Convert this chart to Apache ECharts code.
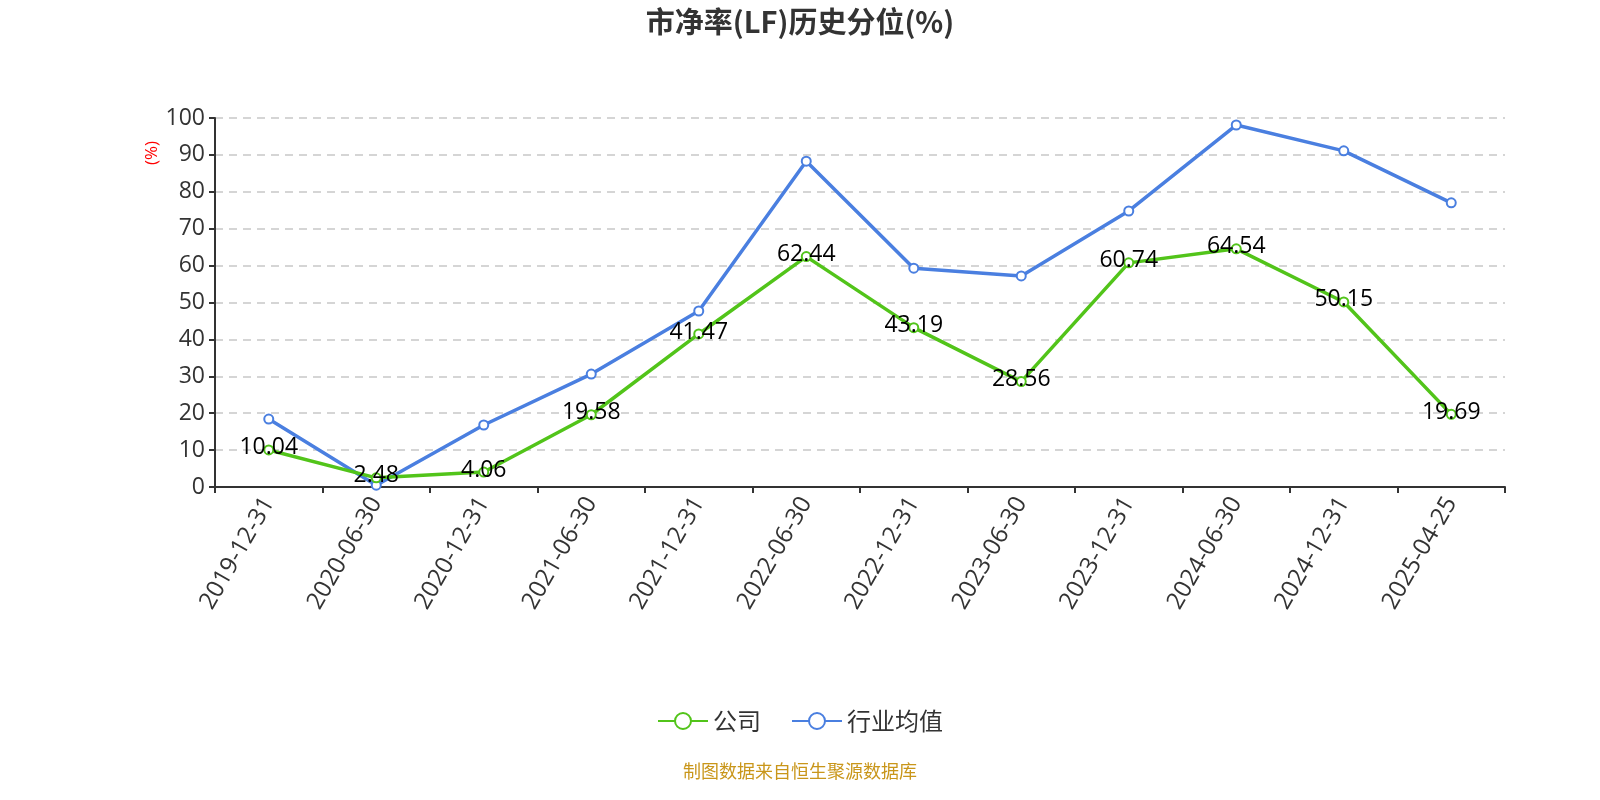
<!DOCTYPE html>
<html><head><meta charset="utf-8">
<script src="https://cdn.jsdelivr.net/npm/echarts@6/dist/echarts.min.js"></script>
<style>html,body{margin:0;padding:0;background:#fff}#c{width:1600px;height:800px}</style>
</head><body><div id="c"></div>
<script>
const categories = ['2019-12-31','2020-06-30','2020-12-31','2021-06-30','2021-12-31','2022-06-30','2022-12-31','2023-06-30','2023-12-31','2024-06-30','2024-12-31','2025-04-25'];
const companyValues = [10.04, 2.48, 4.06, 19.58, 41.47, 62.44, 43.19, 28.56, 60.74, 64.54, 50.15, 19.69];
const industryValues = [18.4, 0.5, 16.8, 30.6, 47.7, 88.3, 59.3, 57.2, 74.8, 98.1, 91.1, 77.0];
const yTicks = [0, 100, 10];

const chart = echarts.init(document.getElementById('c'));
const font = '"Open Sans", "Noto Sans", "Noto Sans CJK SC", sans-serif';
const cjk = '"Noto Sans CJK SC", sans-serif';
chart.setOption({
  animation: false,
  title: { text: '市净率(LF)历史分位(%)', left: 'center', top: 2,
    textStyle: { fontSize: 29, fontWeight: 'bold', color: '#333', fontFamily: cjk } },
  grid: { left: 215, right: 95, top: 118, bottom: 313 },
  legend: { bottom: 62, left: 'center', itemWidth: 50, itemHeight: 20, itemGap: 30,
    textStyle: { fontSize: 24, color: '#333', fontFamily: cjk },
    data: ['公司', '行业均值'] },
  graphic: [
    { type: 'text', left: 'center', top: 762, style: { text: '制图数据来自恒生聚源数据库', fill: '#c9961a', fontSize: 18, fontFamily: cjk } },
    { type: 'text', x: 144, y: 165, rotation: Math.PI / 2, style: { text: '(%)', fill: '#ff0000', fontSize: 17, fontFamily: font } }
  ],
  xAxis: { type: 'category', data: categories, boundaryGap: true,
    axisLine: { lineStyle: { color: '#333', width: 2 } },
    axisTick: { show: true, length: 6, lineStyle: { color: '#333', width: 2 } },
    axisLabel: { rotate: 60, fontSize: 24, color: '#333', margin: 12, fontFamily: font, interval: 0 } },
  yAxis: { type: 'value', min: yTicks[0], max: yTicks[1], interval: yTicks[2],
    axisLine: { show: true, lineStyle: { color: '#333', width: 2 } },
    axisTick: { show: true, length: 6, lineStyle: { color: '#333', width: 2 } },
    axisLabel: { fontSize: 23, color: '#333', margin: 10, fontFamily: font },
    splitLine: { lineStyle: { type: [8, 6], color: '#c8c8c8', width: 1.5 } } },
  series: [
    { name: '公司', type: 'line', data: companyValues, symbol: 'emptyCircle', symbolSize: 9,
      itemStyle: { color: '#52c41a', borderWidth: 2 }, lineStyle: { width: 3.5, color: '#52c41a' }, z: 3,
      label: { show: true, position: 'inside', fontSize: 23, color: '#000', fontFamily: font, offset: [0, -2] } },
    { name: '行业均值', type: 'line', data: industryValues, symbol: 'emptyCircle', symbolSize: 9,
      itemStyle: { color: '#4a7fe0', borderWidth: 2 }, lineStyle: { width: 3.5, color: '#4a7fe0' }, z: 2 }
  ]
});
</script></body></html>
